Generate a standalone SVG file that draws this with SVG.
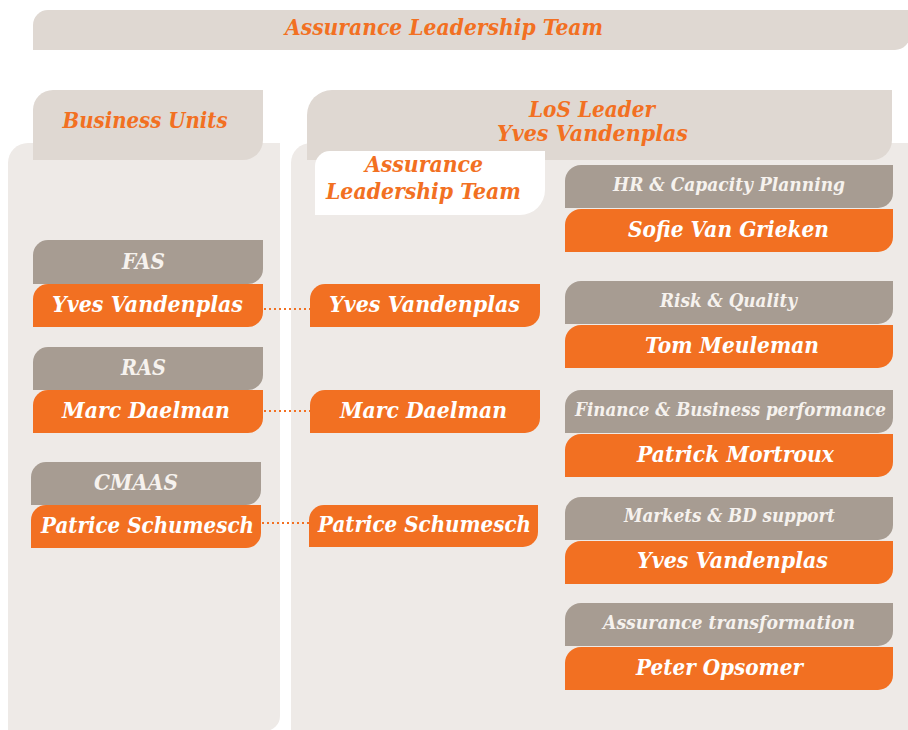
<svg xmlns="http://www.w3.org/2000/svg" width="908" height="730" viewBox="0 0 908 730">
  <style>
    .panel { fill: #EEEAE7; }
    .tab { fill: #DFD8D2; }
    .grey { fill: #A79C92; }
    .orange { fill: #F27022; }
    .white { fill: #FFFFFF; }
    text { font-family: "DejaVu Serif", "Liberation Serif", serif; font-style: italic; font-weight: bold; text-anchor: middle; }
    .head { fill: #F27022; font-size: 22px; }
    .lbl { fill: #F6F2EE; font-size: 18px; }
    .bu { fill: #F6F2EE; font-size: 22px; }
    .name { fill: #FFFFFF; font-size: 22px; }
    .link { stroke: #F27022; stroke-width: 2; stroke-dasharray: 2 3; fill: none; }
  </style>

  <!-- background panels -->
  <g id="panels">
    <path class="panel" d="M8 163 A20 20 0 0 1 28 143 H280 V716 A15 15 0 0 1 265 731 H8 Z"/>
    <path class="panel" d="M291 163 A20 20 0 0 1 311 143 H908 V730 H291 Z"/>
  </g>

  <!-- top banner -->
  <g id="alt-banner">
    <path class="tab" d="M33 25 A15 15 0 0 1 48 10 H910 V35 A15 15 0 0 1 895 50 H33 Z"/>
    <text class="head" x="444" y="35" textLength="318" lengthAdjust="spacingAndGlyphs">Assurance Leadership Team</text>
  </g>

  <!-- column headers -->
  <g id="business-units">
    <path class="tab" d="M33 110 A20 20 0 0 1 53 90 H263 V140 A20 20 0 0 1 243 160 H33 Z"/>
    <text class="head" x="145" y="128" textLength="165" lengthAdjust="spacingAndGlyphs">Business Units</text>
  </g>
  <g id="los-leader">
    <path class="tab" d="M307 115 A25 25 0 0 1 332 90 H892 V140 A20 20 0 0 1 872 160 H307 Z"/>
    <text class="head" x="592" y="117" textLength="126" lengthAdjust="spacingAndGlyphs">LoS Leader</text>
    <text class="head" x="592.5" y="141" textLength="191" lengthAdjust="spacingAndGlyphs">Yves Vandenplas</text>
  </g>
  <g id="alt-box">
    <path class="white" d="M315 166 A15 15 0 0 1 330 151 H545 V190 A25 25 0 0 1 520 215 H315 Z"/>
    <text class="head" x="424" y="172" textLength="118" lengthAdjust="spacingAndGlyphs">Assurance</text>
    <text class="head" x="423.5" y="199" textLength="195" lengthAdjust="spacingAndGlyphs">Leadership Team</text>
  </g>

  <!-- connectors between business units and LoS members -->
  <g id="connectors">
    <line class="link" x1="264" y1="309" x2="310" y2="309"/>
    <line class="link" x1="264" y1="411" x2="310" y2="411"/>
    <line class="link" x1="262" y1="523" x2="310" y2="523"/>
  </g>

  <!-- business units -->
  <g id="bu-fas">
    <path class="grey" d="M33 255 A15 15 0 0 1 48 240 H263 V269 A15 15 0 0 1 248 284 H33 Z"/>
    <path class="orange" d="M33 299 A15 15 0 0 1 48 284 H263 V312 A15 15 0 0 1 248 327 H33 Z"/>
    <text class="bu" x="143.5" y="269" textLength="43" lengthAdjust="spacingAndGlyphs">FAS</text>
    <text class="name" x="147.5" y="312" textLength="191" lengthAdjust="spacingAndGlyphs">Yves Vandenplas</text>
  </g>
  <g id="bu-ras">
    <path class="grey" d="M33 362 A15 15 0 0 1 48 347 H263 V375 A15 15 0 0 1 248 390 H33 Z"/>
    <path class="orange" d="M33 405 A15 15 0 0 1 48 390 H263 V418 A15 15 0 0 1 248 433 H33 Z"/>
    <text class="bu" x="143.5" y="375" textLength="45" lengthAdjust="spacingAndGlyphs">RAS</text>
    <text class="name" x="146" y="418" textLength="168" lengthAdjust="spacingAndGlyphs">Marc Daelman</text>
  </g>
  <g id="bu-cmaas">
    <path class="grey" d="M31 477 A15 15 0 0 1 46 462 H261 V490 A15 15 0 0 1 246 505 H31 Z"/>
    <path class="orange" d="M31 520 A15 15 0 0 1 46 505 H261 V533 A15 15 0 0 1 246 548 H31 Z"/>
    <text class="bu" x="136" y="490" textLength="84" lengthAdjust="spacingAndGlyphs">CMAAS</text>
    <text class="name" x="147.5" y="533" textLength="213" lengthAdjust="spacingAndGlyphs">Patrice Schumesch</text>
  </g>

  <!-- LoS members -->
  <g id="los-yves">
    <path class="orange" d="M310 299 A15 15 0 0 1 325 284 H540 V312 A15 15 0 0 1 525 327 H310 Z"/>
    <text class="name" x="424.5" y="312" textLength="191" lengthAdjust="spacingAndGlyphs">Yves Vandenplas</text>
  </g>
  <g id="los-marc">
    <path class="orange" d="M310 405 A15 15 0 0 1 325 390 H540 V418 A15 15 0 0 1 525 433 H310 Z"/>
    <text class="name" x="423.5" y="418" textLength="167" lengthAdjust="spacingAndGlyphs">Marc Daelman</text>
  </g>
  <g id="los-patrice">
    <path class="orange" d="M309 520 A15 15 0 0 1 324 505 H538 V532 A15 15 0 0 1 523 547 H309 Z"/>
    <text class="name" x="424.5" y="532" textLength="213" lengthAdjust="spacingAndGlyphs">Patrice Schumesch</text>
  </g>

  <!-- support functions -->
  <g id="fn-hr">
    <path class="grey" d="M565 181 A16 16 0 0 1 581 165 H893 V193 A15 15 0 0 1 878 208 H565 Z"/>
    <path class="orange" d="M565 225 A16 16 0 0 1 581 209 H893 V237 A15 15 0 0 1 878 252 H565 Z"/>
    <text class="lbl" x="729" y="191" textLength="232" lengthAdjust="spacingAndGlyphs">HR &amp; Capacity Planning</text>
    <text class="name" x="728.5" y="237" textLength="201" lengthAdjust="spacingAndGlyphs">Sofie Van Grieken</text>
  </g>
  <g id="fn-risk">
    <path class="grey" d="M565 297 A16 16 0 0 1 581 281 H893 V309 A15 15 0 0 1 878 324 H565 Z"/>
    <path class="orange" d="M565 341 A16 16 0 0 1 581 325 H893 V353 A15 15 0 0 1 878 368 H565 Z"/>
    <text class="lbl" x="728.5" y="307" textLength="137" lengthAdjust="spacingAndGlyphs">Risk &amp; Quality</text>
    <text class="name" x="732" y="353" textLength="174" lengthAdjust="spacingAndGlyphs">Tom Meuleman</text>
  </g>
  <g id="fn-finance">
    <path class="grey" d="M565 406 A16 16 0 0 1 581 390 H893 V418 A15 15 0 0 1 878 433 H565 Z"/>
    <path class="orange" d="M565 450 A16 16 0 0 1 581 434 H893 V462 A15 15 0 0 1 878 477 H565 Z"/>
    <text class="lbl" x="730.5" y="416" textLength="311" lengthAdjust="spacingAndGlyphs">Finance &amp; Business performance</text>
    <text class="name" x="735.5" y="462" textLength="197" lengthAdjust="spacingAndGlyphs">Patrick Mortroux</text>
  </g>
  <g id="fn-markets">
    <path class="grey" d="M565 513 A16 16 0 0 1 581 497 H893 V525 A15 15 0 0 1 878 540 H565 Z"/>
    <path class="orange" d="M565 557 A16 16 0 0 1 581 541 H893 V569 A15 15 0 0 1 878 584 H565 Z"/>
    <text class="lbl" x="729.5" y="522" textLength="211" lengthAdjust="spacingAndGlyphs">Markets &amp; BD support</text>
    <text class="name" x="732.5" y="568" textLength="191" lengthAdjust="spacingAndGlyphs">Yves Vandenplas</text>
  </g>
  <g id="fn-transformation">
    <path class="grey" d="M565 619 A16 16 0 0 1 581 603 H893 V631 A15 15 0 0 1 878 646 H565 Z"/>
    <path class="orange" d="M565 663 A16 16 0 0 1 581 647 H893 V675 A15 15 0 0 1 878 690 H565 Z"/>
    <text class="lbl" x="729" y="629" textLength="252" lengthAdjust="spacingAndGlyphs">Assurance transformation</text>
    <text class="name" x="719.5" y="675" textLength="167" lengthAdjust="spacingAndGlyphs">Peter Opsomer</text>
  </g>
</svg>
